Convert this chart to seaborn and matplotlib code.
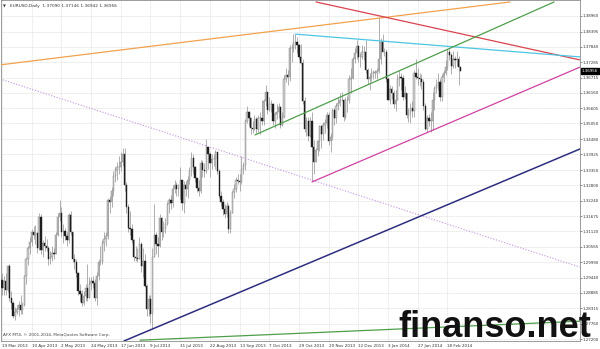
import numpy as np
import pandas as pd
import matplotlib
matplotlib.use("Agg")
import matplotlib.pyplot as plt
import matplotlib.transforms as mtransforms
import seaborn as sns

# ---------------- data (EURUSD daily) ----------------
first_open = 1.2935
highs = [1.2960,1.2950,1.2960,1.2990,1.2995,1.2895,1.2860,1.2835,1.2845,1.2860,
         1.2880,1.2855,1.2955,1.3020,1.3060,1.3090,1.3120,1.3130,1.3135,1.3110,
         1.3180,1.3175,1.3080,1.3095,1.3085,1.3060,1.3040,1.3060,1.3050,1.3110,
         1.3180,1.3225,1.3200,1.3140,1.3125,1.3110,1.3180,1.3185,1.3110,1.3030,
         1.3010,1.2965,1.2920,1.2900,1.2895,1.2920,1.2995,1.2945,1.2945,1.2950,
         1.2940,1.2965,1.3010,1.3060,1.3080,1.3110,1.3110,1.3235,1.3240,1.3275,
         1.3330,1.3345,1.3365,1.3385,1.3400,1.3415,1.3415,1.3290,1.3210,1.3185,
         1.3140,1.3085,1.3060,1.3050,1.3090,1.3075,1.3050,1.3030,1.2920,1.2880,
         1.2880,1.3050,1.3210,1.3110,1.3090,1.3175,1.3165,1.3150,1.3160,1.3220,
         1.3235,1.3245,1.3280,1.3300,1.3290,1.3285,1.3345,1.3300,1.3295,1.3295,
         1.3315,1.3345,1.3400,1.3395,1.3350,1.3305,1.3300,1.3370,1.3370,1.3360,
         1.3450,1.3420,1.3400,1.3395,1.3395,1.3410,1.3400,1.3340,1.3260,1.3230,
         1.3210,1.3220,1.3210,1.3190,1.3260,1.3285,1.3310,1.3320,1.3320,1.3385,
         1.3365,1.3520,1.3570,1.3550,1.3530,1.3515,1.3535,1.3530,1.3535,1.3545,
         1.3590,1.3595,1.3645,1.3620,1.3600,1.3590,1.3580,1.3545,1.3575,1.3580,
         1.3570,1.3545,1.3680,1.3705,1.3700,1.3790,1.3795,1.3830,1.3830,1.3820,
         1.3795,1.3795,1.3740,1.3600,1.3530,1.3530,1.3530,1.3545,1.3445,1.3415,
         1.3445,1.3500,1.3500,1.3510,1.3520,1.3545,1.3545,1.3470,1.3560,1.3560,
         1.3580,1.3600,1.3615,1.3620,1.3595,1.3600,1.3605,1.3680,1.3705,1.3745,
         1.3780,1.3810,1.3790,1.3760,1.3790,1.3785,1.3810,1.3705,1.3690,1.3705,
         1.3700,1.3700,1.3705,1.3893,1.3815,1.3830,1.3780,1.3775,1.3675,1.3645,
         1.3640,1.3625,1.3625,1.3685,1.3700,1.3690,1.3680,1.3640,1.3615,1.3560,
         1.3580,1.3585,1.3700,1.3740,1.3705,1.3690,1.3685,1.3665,1.3580,1.3535,
         1.3540,1.3545,1.3620,1.3640,1.3665,1.3690,1.3665,1.3685,1.3700,1.3735,
         1.3775,1.3775,1.3760,1.3770,1.3750,1.3770,1.3750,1.37146]
lows = [1.2880,1.2880,1.2880,1.2890,1.2860,1.2830,1.2795,1.2790,1.2810,1.2805,
        1.2810,1.2810,1.2840,1.2920,1.2990,1.3030,1.3060,1.3085,1.3065,1.3035,
        1.3045,1.3030,1.3020,1.3040,1.3040,1.2990,1.2995,1.3005,1.3010,1.3030,
        1.3095,1.3150,1.3090,1.3070,1.3080,1.3060,1.3070,1.3100,1.3000,1.2975,
        1.2945,1.2880,1.2860,1.2840,1.2845,1.2860,1.2860,1.2870,1.2900,1.2905,
        1.2860,1.2845,1.2935,1.2990,1.2995,1.3040,1.3060,1.3085,1.3180,1.3200,
        1.3240,1.3290,1.3300,1.3320,1.3330,1.3350,1.3260,1.3180,1.3110,1.3100,
        1.3070,1.3005,1.3005,1.3000,1.3010,1.2965,1.2945,1.2910,1.2805,1.2805,
        1.2780,1.2755,1.3020,1.3030,1.3020,1.3055,1.3080,1.3090,1.3105,1.3135,
        1.3180,1.3195,1.3200,1.3250,1.3240,1.3240,1.3230,1.3190,1.3180,1.3240,
        1.3235,1.3285,1.3315,1.3320,1.3290,1.3255,1.3240,1.3250,1.3310,1.3310,
        1.3325,1.3340,1.3310,1.3340,1.3350,1.3340,1.3320,1.3235,1.3205,1.3170,
        1.3160,1.3165,1.3105,1.3105,1.3180,1.3235,1.3255,1.3285,1.3260,1.3285,
        1.3320,1.3335,1.3505,1.3495,1.3465,1.3470,1.3480,1.3470,1.3475,1.3465,
        1.3500,1.3500,1.3570,1.3540,1.3550,1.3545,1.3500,1.3490,1.3520,1.3525,
        1.3490,1.3495,1.3525,1.3655,1.3645,1.3660,1.3730,1.3765,1.3775,1.3760,
        1.3740,1.3720,1.3575,1.3475,1.3460,1.3440,1.3455,1.3295,1.3320,1.3365,
        1.3385,1.3405,1.3415,1.3445,1.3470,1.3490,1.3425,1.3400,1.3445,1.3500,
        1.3505,1.3555,1.3570,1.3585,1.3515,1.3520,1.3545,1.3580,1.3615,1.3665,
        1.3725,1.3740,1.3730,1.3710,1.3740,1.3735,1.3690,1.3650,1.3625,1.3660,
        1.3665,1.3670,1.3665,1.3690,1.3720,1.3765,1.3750,1.3655,1.3590,1.3575,
        1.3595,1.3560,1.3550,1.3590,1.3640,1.3625,1.3590,1.3595,1.3525,1.3510,
        1.3505,1.3530,1.3530,1.3665,1.3645,1.3640,1.3630,1.3555,1.3480,1.3475,
        1.3495,1.3475,1.3480,1.3555,1.3615,1.3625,1.3585,1.3585,1.3655,1.3680,
        1.3700,1.3735,1.3685,1.3705,1.3705,1.3715,1.3645,1.36942]
closes = [1.2905,1.2930,1.2900,1.2985,1.2870,1.2850,1.2805,1.2820,1.2830,1.2845,
          1.2825,1.2845,1.2950,1.3010,1.3050,1.3075,1.3110,1.3100,1.3105,1.3050,
          1.3165,1.3045,1.3070,1.3060,1.3050,1.3010,1.3020,1.3035,1.3030,1.3100,
          1.3165,1.3180,1.3110,1.3115,1.3095,1.3080,1.3170,1.3110,1.3010,1.3000,
          1.2960,1.2895,1.2885,1.2850,1.2875,1.2905,1.2870,1.2920,1.2930,1.2925,
          1.2870,1.2950,1.3000,1.3000,1.3070,1.3085,1.3095,1.3225,1.3220,1.3260,
          1.3315,1.3335,1.3345,1.3345,1.3365,1.3395,1.3280,1.3200,1.3125,1.3120,
          1.3080,1.3020,1.3015,1.3010,1.3065,1.2985,1.3005,1.2915,1.2830,1.2865,
          1.2810,1.3020,1.3100,1.3065,1.3060,1.3160,1.3110,1.3125,1.3140,1.3210,
          1.3225,1.3215,1.3265,1.3280,1.3265,1.3265,1.3300,1.3215,1.3280,1.3265,
          1.3300,1.3330,1.3380,1.3345,1.3305,1.3270,1.3260,1.3360,1.3335,1.3330,
          1.3420,1.3395,1.3360,1.3375,1.3375,1.3400,1.3330,1.3240,1.3220,1.3195,
          1.3175,1.3205,1.3120,1.3180,1.3255,1.3265,1.3300,1.3295,1.3290,1.3340,
          1.3355,1.3515,1.3545,1.3525,1.3490,1.3485,1.3520,1.3485,1.3525,1.3525,
          1.3515,1.3585,1.3620,1.3555,1.3575,1.3575,1.3515,1.3540,1.3545,1.3565,
          1.3500,1.3530,1.3665,1.3680,1.3675,1.3780,1.3780,1.3800,1.3800,1.3790,
          1.3745,1.3725,1.3585,1.3485,1.3515,1.3460,1.3515,1.3420,1.3365,1.3410,
          1.3440,1.3495,1.3465,1.3500,1.3505,1.3535,1.3440,1.3455,1.3555,1.3525,
          1.3570,1.3580,1.3590,1.3590,1.3530,1.3590,1.3590,1.3665,1.3670,1.3740,
          1.3760,1.3785,1.3745,1.3745,1.3765,1.3765,1.3700,1.3665,1.3675,1.3690,
          1.3690,1.3690,1.3695,1.3740,1.3800,1.3765,1.3765,1.3665,1.3590,1.3630,
          1.3615,1.3575,1.3590,1.3665,1.3675,1.3670,1.3600,1.3615,1.3535,1.3545,
          1.3560,1.3550,1.3690,1.3675,1.3670,1.3665,1.3655,1.3570,1.3485,1.3525,
          1.3515,1.3515,1.3590,1.3635,1.3645,1.3655,1.3600,1.3675,1.3690,1.3710,
          1.3765,1.3755,1.3715,1.3740,1.3735,1.3740,1.3709,1.36956]

date_labels = ["19 Mar 2013", "10 Apr 2013", "2 May 2013", "24 May 2013",
               "17 Jun 2013", "9 Jul 2013", "31 Jul 2013", "22 Aug 2013",
               "13 Sep 2013", "7 Oct 2013", "29 Oct 2013", "20 Nov 2013",
               "12 Dec 2013", "3 Jan 2014", "27 Jan 2014", "18 Feb 2014"]
label_bars = [0, 16, 32, 48, 64, 80, 96, 112, 128, 144, 160, 176, 192, 208, 224, 240]

price_ticks = [1.38960, 1.38395, 1.37840, 1.37285, 1.36715, 1.36160, 1.35605,
               1.35050, 1.34480, 1.33925, 1.33350, 1.32800, 1.32240, 1.31675,
               1.31120, 1.30565, 1.29990, 1.29440, 1.28885, 1.28315, 1.27760,
               1.27200]

title_text = "EURUSD,Daily  1.37090 1.37146 1.36942 1.36956"
copyright_text = "AFX MT4, \u00a9 2001-2014, MetaQuotes Software Corp."
last_price = 1.36956

# trend lines: (bar index, price) end points
orange_bars, orange_prices = [-1.1, 273.7], [1.3718, 1.3947]
red_bars, red_prices = [169.2, 311.4], [1.3947, 1.3736]
cyan_bars, cyan_prices = [158.0, 311.4], [1.3830, 1.3747]
green_bars, green_prices = [136.3, 297.4], [1.3463, 1.3947]
magenta_bars, magenta_prices = [167.0, 311.4], [1.3292, 1.3710]
navy_bars, navy_prices = [65.7, 311.4], [1.2713, 1.3412]
violet_bars, violet_prices = [-1.1, 311.4], [1.3667, 1.2982]
lowgreen_bars, lowgreen_prices = [74.4, 311.4], [1.2716, 1.2785]

# ---------------- figure ----------------
sns.set_style("white")
plt.rcParams["font.family"] = ["DejaVu Sans"]

W, H = 600, 349
fig = plt.figure(figsize=(W / 100, H / 100), dpi=100)
fig.patch.set_facecolor("white")
ax = fig.add_axes([1 / W, 8 / H, 579 / W, 341 / H])
ax.set_facecolor("white")

n = len(closes)
idx = np.arange(n)
c = np.array(closes)
o = np.concatenate([[first_open], c[:-1]])
h = np.array(highs)
l = np.array(lows)

# grid
ax.set_xticks(label_bars)
ax.set_yticks(price_ticks)
ax.grid(True, color="#dedede", lw=0.5, ls=(0, (2, 1)), zorder=0)

# candles
up = c >= o
ax.vlines(idx, l, h, color="#8f8f8f", lw=0.5, zorder=2)
body_lo = np.minimum(o, c)
body_h = np.maximum(np.abs(c - o), 0.00012)
ax.bar(idx[up], body_h[up], bottom=body_lo[up], width=0.7,
       color="#cdcdcd", edgecolor="#808080", linewidth=0.3, zorder=3)
ax.bar(idx[~up], body_h[~up], bottom=body_lo[~up], width=0.7,
       color="#1e1e1e", edgecolor="#1e1e1e", linewidth=0.3, zorder=3)

# trend lines via seaborn
def tline(bx, py, color, lw, ls="-"):
    df = pd.DataFrame({"bar": bx, "price": py})
    sns.lineplot(data=df, x="bar", y="price", ax=ax, color=color, lw=lw,
                 linestyle=ls, estimator=None, sort=False, zorder=4)

tline(violet_bars, violet_prices, "#c99ee0", 0.85, (0, (1, 1.4)))
tline(orange_bars, orange_prices, "#f2a14d", 0.9)
tline(red_bars, red_prices, "#d9434e", 0.9)
tline(cyan_bars, cyan_prices, "#4cc6e4", 0.9)
tline(green_bars, green_prices, "#4e9f4a", 0.9)
tline(magenta_bars, magenta_prices, "#d040a4", 0.9)
tline(navy_bars, navy_prices, "#2e2e80", 1.1)
tline(lowgreen_bars, lowgreen_prices, "#4e9f4a", 0.9)
ax.set_xlim(-0.54, 311.4)
ax.set_ylim(1.27130, 1.39542)
ax.set_xlabel("")
ax.set_ylabel("")

# axes cosmetics
for s in ["left", "top", "bottom", "right"]:
    ax.spines[s].set_color("#8c8c8c")
    ax.spines[s].set_linewidth(0.6)
ax.yaxis.tick_right()
ax.set_yticklabels([f"{v:.5f}" for v in price_ticks])
ax.set_xticklabels(date_labels, ha="left")
ax.tick_params(axis="y", labelsize=2.9, length=1.2, width=0.4, pad=0.6,
               colors="#333333", right=True, left=False)
ax.tick_params(axis="x", labelsize=3.0, length=1.5, width=0.4, pad=0.8,
               colors="#333333")

# last price box
trans = mtransforms.blended_transform_factory(ax.transAxes, ax.transData)
ax.text(1.003, last_price, f"{last_price:.5f}", transform=trans, fontsize=2.9,
        color="white", va="center", ha="left",
        bbox=dict(boxstyle="square,pad=0.2", fc="black", ec="black"), zorder=6)

# title & copyright
ax.text(0.004, 0.988, "\u25bc", transform=ax.transAxes, fontsize=2.6,
        color="#333333", va="top", ha="left")
ax.text(0.016, 0.988, title_text, transform=ax.transAxes, fontsize=3.1,
        color="#333333", va="top", ha="left")
ax.text(0.004, 0.012, copyright_text, transform=ax.transAxes, fontsize=3.0,
        color="#444444", va="bottom", ha="left")

# watermark
fig.text(591 / W, 12 / H, "finanso.net", family=["Liberation Sans", "DejaVu Sans"],
         weight="bold", fontsize=26, color="#111111", ha="right", va="baseline",
         zorder=10)

fig.savefig("out.png", dpi=100, facecolor="white")
